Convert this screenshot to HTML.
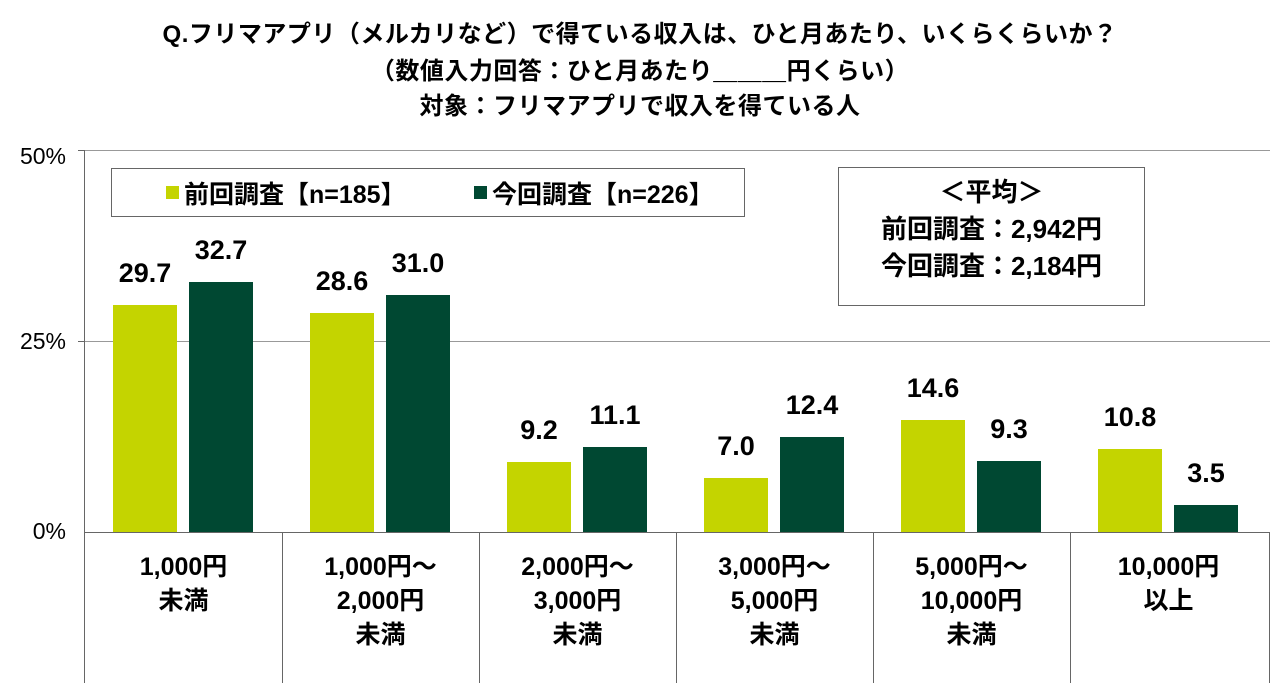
<!DOCTYPE html><html><head><meta charset="utf-8"><style>
body{margin:0;width:1280px;height:683px;background:#fff;position:relative;overflow:hidden;font-family:"Liberation Sans","Noto Sans CJK JP",sans-serif;color:#000}
.a{position:absolute}
.t{left:0;width:1280px;text-align:center;font-weight:bold;font-size:24px;line-height:26px;letter-spacing:0.5px}
.yl{font-size:23px;left:0px;width:66px;text-align:right}
.bar{position:absolute;width:64px}
.L{background:#c4d400}.D{background:#004832}
.v{position:absolute;width:90px;text-align:center;font-weight:bold;font-size:27px}
.c{position:absolute;width:197px;text-align:center;font-weight:bold;font-size:25px;line-height:34px;top:550px}
.box{position:absolute;border:1.5px solid #666;background:#fff;box-sizing:border-box}
</style></head><body>
<div class="a t" style="top:22px">Q.フリマアプリ（メルカリなど）で得ている収入は、ひと月あたり、いくらくらいか？</div>
<div class="a t" style="top:59px">（数値入力回答：ひと月あたり＿＿＿円くらい）</div>
<div class="a t" style="top:94px">対象：フリマアプリで収入を得ている人</div>
<div class="a yl" style="top:143px">50%</div>
<div class="a yl" style="top:328px">25%</div>
<div class="a yl" style="top:518px">0%</div>
<div class="a" style="left:85px;top:150px;width:1185px;height:1px;background:#999"></div>
<div class="a" style="left:85px;top:341px;width:1185px;height:1px;background:#999"></div>
<div class="a" style="left:78px;top:150px;width:7px;height:1px;background:#666"></div>
<div class="a" style="left:78px;top:341px;width:7px;height:1px;background:#666"></div>
<div class="a" style="left:84px;top:150px;width:1px;height:383px;background:#666"></div>
<div class="a" style="left:85px;top:532px;width:1185px;height:1px;background:#666"></div>
<div class="a" style="left:84px;top:532px;width:1px;height:151px;background:#666"></div>
<div class="a" style="left:282px;top:532px;width:1px;height:151px;background:#666"></div>
<div class="a" style="left:479px;top:532px;width:1px;height:151px;background:#666"></div>
<div class="a" style="left:676px;top:532px;width:1px;height:151px;background:#666"></div>
<div class="a" style="left:873px;top:532px;width:1px;height:151px;background:#666"></div>
<div class="a" style="left:1070px;top:532px;width:1px;height:151px;background:#666"></div>
<div class="a" style="left:1269px;top:532px;width:1px;height:151px;background:#666"></div>

<div class="bar L" style="left:113px;top:305px;height:227px"></div><div class="v" style="left:100px;top:258px">29.7</div>
<div class="bar D" style="left:189px;top:282px;height:250px"></div><div class="v" style="left:176px;top:235px">32.7</div>
<div class="bar L" style="left:310px;top:313px;height:219px"></div><div class="v" style="left:297px;top:266px">28.6</div>
<div class="bar D" style="left:386px;top:295px;height:237px"></div><div class="v" style="left:373px;top:248px">31.0</div>
<div class="bar L" style="left:507px;top:462px;height:70px"></div><div class="v" style="left:494px;top:415px">9.2</div>
<div class="bar D" style="left:583px;top:447px;height:85px"></div><div class="v" style="left:570px;top:400px">11.1</div>
<div class="bar L" style="left:704px;top:478px;height:54px"></div><div class="v" style="left:691px;top:431px">7.0</div>
<div class="bar D" style="left:780px;top:437px;height:95px"></div><div class="v" style="left:767px;top:390px">12.4</div>
<div class="bar L" style="left:901px;top:420px;height:112px"></div><div class="v" style="left:888px;top:373px">14.6</div>
<div class="bar D" style="left:977px;top:461px;height:71px"></div><div class="v" style="left:964px;top:414px">9.3</div>
<div class="bar L" style="left:1098px;top:449px;height:83px"></div><div class="v" style="left:1085px;top:402px">10.8</div>
<div class="bar D" style="left:1174px;top:505px;height:27px"></div><div class="v" style="left:1161px;top:458px">3.5</div>

<div class="c" style="left:85px">1,000円<br>未満</div>
<div class="c" style="left:282px">1,000円～<br>2,000円<br>未満</div>
<div class="c" style="left:479px">2,000円～<br>3,000円<br>未満</div>
<div class="c" style="left:676px">3,000円～<br>5,000円<br>未満</div>
<div class="c" style="left:873px">5,000円～<br>10,000円<br>未満</div>
<div class="c" style="left:1070px">10,000円<br>以上</div>

<div class="box" style="left:111px;top:168px;width:634px;height:49px"></div>
<div class="a" style="left:166px;top:186px;width:13px;height:13px;background:#c4d400"></div>
<div class="a" style="left:184px;top:175px;font-weight:bold;font-size:25px">前回調査【n=185】</div>
<div class="a" style="left:474px;top:186px;width:13px;height:13px;background:#004832"></div>
<div class="a" style="left:492px;top:175px;font-weight:bold;font-size:25px">今回調査【n=226】</div>

<div class="box" style="left:838px;top:167px;width:307px;height:139px"></div>
<div class="a" style="left:838px;top:174px;width:307px;text-align:center;font-weight:bold;font-size:26px;line-height:37px">＜平均＞<br>前回調査：2,942円<br>今回調査：2,184円</div>
</body></html>
